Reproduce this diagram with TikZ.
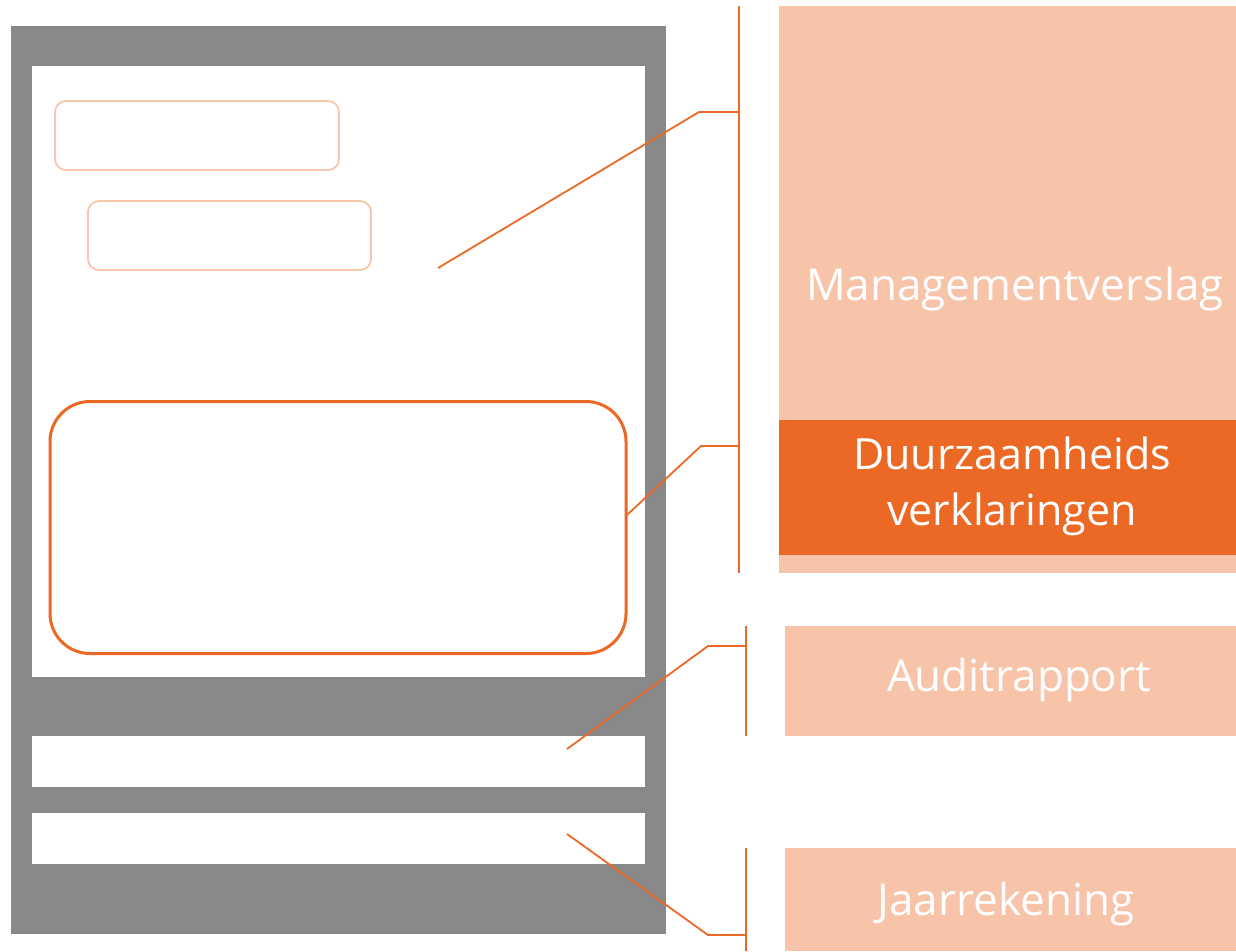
\documentclass[tikz,border=0pt]{standalone}
\usepackage{fontspec}
\setmainfont{Open Sans}
\definecolor{pagegray}{HTML}{898989}
\definecolor{peach}{HTML}{F7C3A9}
\definecolor{darkorange}{HTML}{EC6825}
\definecolor{lightline}{HTML}{F9C6AB}
\tikzset{
  block/.style={inner sep=0pt, outer sep=0pt, draw=none},
  label/.style={text=white, font=\fontsize{44}{56}\selectfont, align=center, inner sep=0pt},
  conn/.style={draw=darkorange, line width=1.8pt},
}
\begin{document}
\begin{tikzpicture}[x=1pt,y=-1pt]
\useasboundingbox (0,0) rectangle (1236,951);
% document frame
\fill[pagegray] (11,26) rectangle (666,934);
\node[block, fill=white, minimum width=613pt, minimum height=611pt, anchor=north west] (page) at (32,66) {};
\node[block, fill=white, minimum width=613pt, minimum height=51pt, anchor=north west] (strip1) at (32,736) {};
\node[block, fill=white, minimum width=613pt, minimum height=51pt, anchor=north west] (strip2) at (32,813) {};
% boxes inside page
\draw[lightline, line width=1.8pt, rounded corners=11pt] (55,101) rectangle (339,170);
\draw[lightline, line width=1.8pt, rounded corners=11pt] (88,201) rectangle (371,270);
\node[draw=darkorange, line width=3pt, rounded corners=40pt, minimum width=576pt, minimum height=252pt, anchor=north west, inner sep=0pt] (sust) at (48.5,400) {};
% right blocks
\node[block, fill=peach, minimum width=457pt, minimum height=567pt, anchor=north west] (mv) at (779,6) {};
\node[block, fill=darkorange, minimum width=457pt, minimum height=135pt, anchor=north west] (dv) at (779,420) {};
\node[block, fill=peach, minimum width=451pt, minimum height=110pt, anchor=north west] (ar) at (785,626) {};
\node[block, fill=peach, minimum width=451pt, minimum height=103pt, anchor=north west] (jr) at (785,848) {};
% labels
\node[label, anchor=base] (mvt) at (1015,300) {Managementverslag};
\node[label, anchor=base, font=\fontsize{43}{56}\selectfont] (dvt1) at (1012,469) {Duurzaamheids};
\node[label, anchor=base, font=\fontsize{43}{56}\selectfont] (dvt2) at (1012,525) {verklaringen};
\node[label, anchor=base] (art) at (1019,691) {Auditrapport};
\node[label, anchor=base] (jrt) at (1006,915) {Jaarrekening};
% bracket coordinates
\coordinate (b1top) at (739,6);
\coordinate (b1bot) at (739,573);
\coordinate (k1) at (699,112);
\coordinate (h1) at (739,112);
\coordinate (s1) at (438,268);
\coordinate (k2) at (701,446);
\coordinate (h2) at (739,446);
\coordinate (s2) at ([yshift=13pt]sust.east);
\coordinate (b3top) at (746,626);
\coordinate (b3bot) at (746,736);
\coordinate (k3) at (708,646);
\coordinate (h3) at (746,646);
\coordinate (s3) at (567,749);
\coordinate (b4top) at (746,848);
\coordinate (b4bot) at (746,951);
\coordinate (k4) at (708,935);
\coordinate (h4) at (746,935);
\coordinate (s4) at (567,834);
% connectors
\draw[conn] (b1top) -- (b1bot);
\draw[conn] (s1) -- (k1) -- (h1);
\draw[conn] (s2) -- (k2) -- (h2);
\draw[conn] (b3top) -- (b3bot);
\draw[conn] (s3) -- (k3) -- (h3);
\draw[conn] (b4top) -- (b4bot);
\draw[conn] (s4) -- (k4) -- (h4);
\end{tikzpicture}
\end{document}
